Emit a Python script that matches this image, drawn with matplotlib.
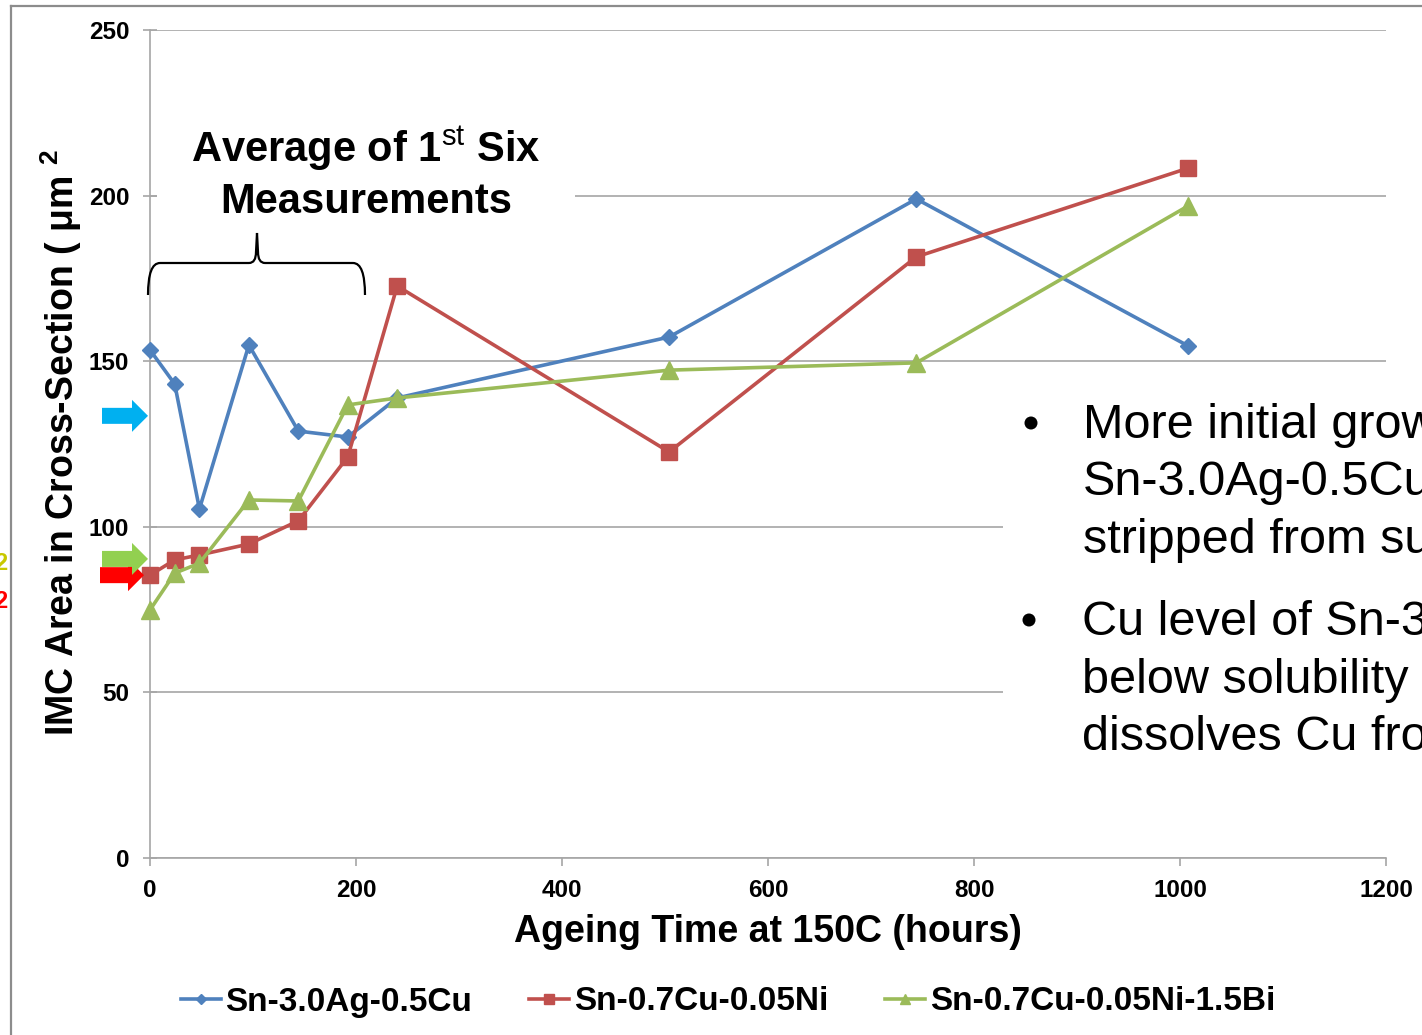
import matplotlib
matplotlib.use("Agg")
import matplotlib.pyplot as plt
from matplotlib.transforms import Affine2D
from matplotlib.patches import Rectangle, Polygon, PathPatch, Circle
from matplotlib.path import Path
from matplotlib.lines import Line2D

# ---------------- data ----------------
series_names = ["Sn-3.0Ag-0.5Cu", "Sn-0.7Cu-0.05Ni", "Sn-0.7Cu-0.05Ni-1.5Bi"]
hours = [0, 24, 48, 96, 144, 192, 240, 504, 744, 1008]
sac305 = [153.4, 143.1, 105.4, 154.9, 128.9, 127.1, 138.9, 157.3, 199.0, 154.6]
sn07cu_ni = [85.4, 90.0, 91.5, 94.8, 101.8, 121.1, 172.7, 122.6, 181.5, 208.3]
sn07cu_ni_bi = [74.9, 86.0, 89.0, 108.1, 107.8, 136.8, 138.9, 147.3, 149.5, 196.9]
series_values = [sac305, sn07cu_ni, sn07cu_ni_bi]

# averages marked by arrows on the y axis
arrow_levels = [133.5, 85.4, 90.3]   # blue, red, green

x_ticks = [0, 200, 400, 600, 800, 1000, 1200]
y_ticks = [0, 50, 100, 150, 200, 250]

# ---------------- styles ----------------
colors = ["#4F81BD", "#C0504D", "#9BBB59"]
markers = ["D", "s", "^"]
msizes = [8.5, 11.0, 13.0]
arrow_colors = ["#00B0F0", "#FF0000", "#92D050"]
grid_c = "#A6A6A6"

W, H = 1422, 1035
plt.rcParams["font.family"] = ["Liberation Sans", "DejaVu Sans"]
plt.rcParams["mathtext.fontset"] = "custom"
plt.rcParams["mathtext.rm"] = "Liberation Sans"
plt.rcParams["mathtext.bf"] = "Liberation Sans:bold"

fig = plt.figure(figsize=(W / 100, H / 100), dpi=100)
px = Affine2D().scale(1 / W, -1 / H).translate(0, 1) + fig.transFigure

L, R, T, B = 150, 1386, 30, 858
ax = fig.add_axes([L / W, 1 - B / H, (R - L) / W, (B - T) / H])
ax.set_xlim(x_ticks[0], x_ticks[-1])
ax.set_ylim(y_ticks[0], y_ticks[-1])
ax.set_xticks(x_ticks)
ax.set_yticks(y_ticks)
for s in ["top", "right"]:
    ax.spines[s].set_visible(False)
for s in ["left", "bottom"]:
    ax.spines[s].set_color(grid_c)
    ax.spines[s].set_linewidth(1.2)
ax.yaxis.grid(True, color=grid_c, linewidth=1.2)
ax.set_axisbelow(True)
ax.tick_params(axis="y", direction="inout", length=10, width=1.2, color=grid_c,
               labelsize=17.5, pad=10)
ax.tick_params(axis="x", direction="out", length=6, width=1.2, color=grid_c,
               labelsize=17.5, pad=9)
for lab in ax.get_xticklabels() + ax.get_yticklabels():
    lab.set_fontweight("bold")

handles = []
for name, vals, c, m, ms in zip(series_names, series_values, colors, markers, msizes):
    h, = ax.plot(hours, vals, color=c, marker=m, markersize=ms, linewidth=2.6,
                 markeredgecolor=c, label=name, clip_on=False, zorder=3)
    handles.append(h)

ax.set_xlabel("Ageing Time at 150C (hours)", fontsize=27, fontweight="bold", va="center")
ax.xaxis.set_label_coords(0.5, (B - 932) / (B - T))
ax.set_ylabel(r"IMC Area in Cross-Section ( μm $^{\mathbf{2}}$", fontsize=27,
              fontweight="bold", va="center")
ax.yaxis.set_label_coords((61 - L) / (R - L), (B - 443) / (B - T))


def block_arrow(yval, color, x0, x1, tip, z):
    yp = ax.transData.transform((0, yval))[1]
    ypx = H - yp
    pts = [(x0, ypx - 8), (x1, ypx - 8), (x1, ypx - 16), (tip, ypx),
           (x1, ypx + 16), (x1, ypx + 8), (x0, ypx + 8)]
    fig.add_artist(Polygon(pts, closed=True, transform=px, facecolor=color,
                           edgecolor="none", zorder=z))


block_arrow(arrow_levels[0], arrow_colors[0], 102, 132, 148, 5)
block_arrow(arrow_levels[1], arrow_colors[1], 100, 128, 144, 5)
block_arrow(arrow_levels[2], arrow_colors[2], 102, 132, 148, 6)

# white text boxes hiding gridlines
fig.add_artist(Rectangle((157, 112), 418, 118, transform=px, facecolor="white",
                         edgecolor="none", zorder=2))
fig.add_artist(Rectangle((1003, 378), 420, 420, transform=px, facecolor="white",
                         edgecolor="none", zorder=2))

# annotation
fig.text(366, 162, r"Average of 1$^{\mathrm{st}}$ Six", transform=px, ha="center",
         va="baseline", fontsize=30, fontweight="bold", zorder=4)
fig.text(366, 213, "Measurements", transform=px, ha="center", va="baseline",
         fontsize=30, fontweight="bold", zorder=4)

# curly brace
verts = [(148, 295), (148, 263), (160, 263), (249, 263), (256, 263), (256, 252),
         (257, 233), (258, 252), (258, 263), (265, 263), (353, 263), (365, 263),
         (365, 295)]
codes = [Path.MOVETO, Path.CURVE3, Path.CURVE3, Path.LINETO, Path.CURVE3, Path.CURVE3,
         Path.LINETO, Path.LINETO, Path.CURVE3, Path.CURVE3, Path.LINETO, Path.CURVE3,
         Path.CURVE3]
fig.add_artist(PathPatch(Path(verts, codes), transform=px, facecolor="none",
                         edgecolor="black", linewidth=1.6, zorder=4))

# bullet text (as much as is visible in the slide)
bullets = [
    ["More initial grow", "Sn-3.0Ag-0.5Cu", "stripped from su"],
    ["Cu level of Sn-3", "below solubility l", "dissolves Cu fro"],
]
base_y = [[438, 495, 553], [635, 693, 750]]
text_x = [1083, 1082]
dot_pos = [(1031, 423), (1029, 620)]
for lines, ys, tx, (dx, dy) in zip(bullets, base_y, text_x, dot_pos):
    fig.add_artist(Circle((dx, dy), 6.5, transform=px, facecolor="black",
                          edgecolor="none", zorder=4))
    for t, y in zip(lines, ys):
        fig.text(tx, y, t, transform=px, ha="left", va="baseline", fontsize=35,
                 zorder=4)

# cut-off labels at far left
fig.text(7, 570, "2", transform=px, ha="right", va="baseline", fontsize=17,
         fontweight="bold", color="#C8C800", zorder=4)
fig.text(7, 608, "2", transform=px, ha="right", va="baseline", fontsize=17,
         fontweight="bold", color="#FF0000", zorder=4)

# outer frame
fig.add_artist(Line2D([11, W], [6, 6], transform=px, color="#8C8C8C", linewidth=1.6))
fig.add_artist(Line2D([11, 11], [6, H], transform=px, color="#8C8C8C", linewidth=1.6))

# legend
leg = fig.legend(handles=handles, loc="center", bbox_to_anchor=(728 / W, 1 - 1002 / H),
                 ncol=3, frameon=False, fontsize=24, handlelength=1.2,
                 handletextpad=0.15, columnspacing=1.7, markerscale=0.6)
for t in leg.get_texts():
    t.set_fontweight("bold")

fig.savefig("out.png", dpi=100)
